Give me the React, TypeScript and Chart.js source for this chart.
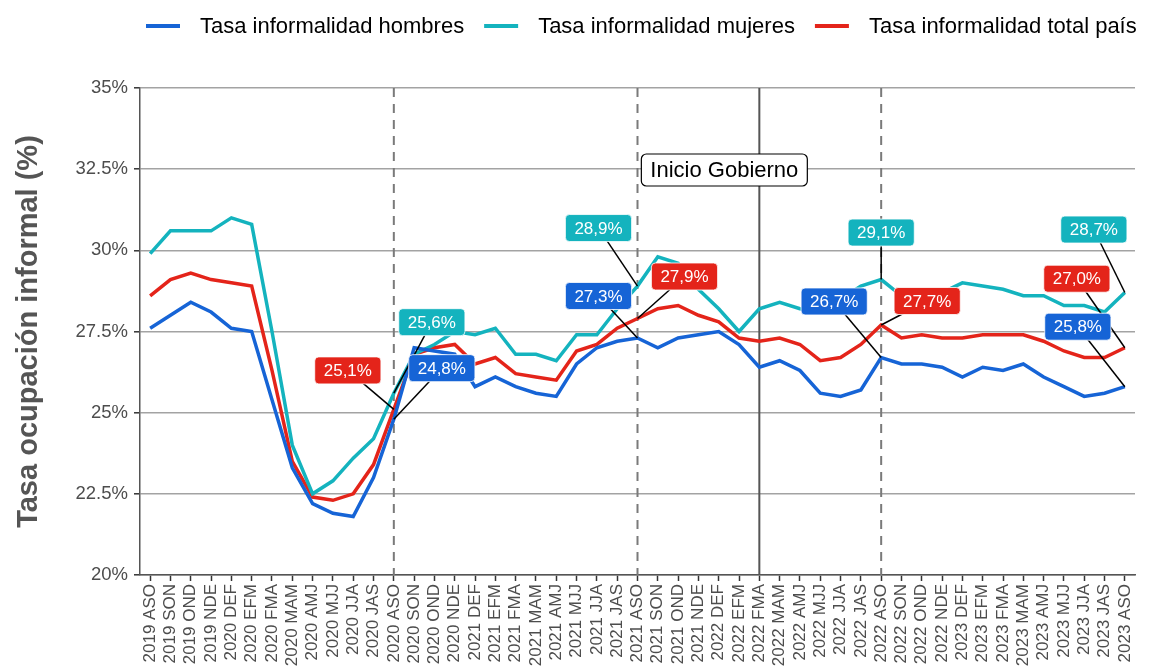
import React, { useEffect, useRef } from 'react';
import { Chart, registerables } from 'chart.js';

Chart.register(...registerables);

const categories = [
  '2019 ASO', '2019 SON', '2019 OND', '2019 NDE', '2020 DEF', '2020 EFM', '2020 FMA', '2020 MAM',
  '2020 AMJ', '2020 MJJ', '2020 JJA', '2020 JAS', '2020 ASO', '2020 SON', '2020 OND', '2020 NDE',
  '2021 DEF', '2021 EFM', '2021 FMA', '2021 MAM', '2021 AMJ', '2021 MJJ', '2021 JJA', '2021 JAS',
  '2021 ASO', '2021 SON', '2021 OND', '2021 NDE', '2022 DEF', '2022 EFM', '2022 FMA', '2022 MAM',
  '2022 AMJ', '2022 MJJ', '2022 JJA', '2022 JAS', '2022 ASO', '2022 SON', '2022 OND', '2022 NDE',
  '2023 DEF', '2023 EFM', '2023 FMA', '2023 MAM', '2023 AMJ', '2023 MJJ', '2023 JJA', '2023 JAS',
  '2023 ASO',
];

const hombres = [
  27.6, 28.0, 28.4, 28.1, 27.6, 27.5, 25.4, 23.3, 22.2, 21.9, 21.8, 23.0, 24.8, 27.0, 26.9, 26.8,
  25.8, 26.1, 25.8, 25.6, 25.5, 26.5, 27.0, 27.2, 27.3, 27.0, 27.3, 27.4, 27.5, 27.1, 26.4, 26.6,
  26.3, 25.6, 25.5, 25.7, 26.7, 26.5, 26.5, 26.4, 26.1, 26.4, 26.3, 26.5, 26.1, 25.8, 25.5, 25.6,
  25.8,
];

const mujeres = [
  29.9, 30.6, 30.6, 30.6, 31.0, 30.8, 27.5, 24.0, 22.5, 22.9, 23.6, 24.2, 25.6, 26.8, 27.1, 27.5,
  27.4, 27.6, 26.8, 26.8, 26.6, 27.4, 27.4, 28.2, 28.9, 29.8, 29.6, 28.8, 28.2, 27.5, 28.2, 28.4,
  28.2, 28.1, 28.5, 28.9, 29.1, 28.6, 28.6, 28.7, 29.0, 28.9, 28.8, 28.6, 28.6, 28.3, 28.3, 28.1,
  28.7,
];

const total = [
  28.6, 29.1, 29.3, 29.1, 29.0, 28.9, 26.3, 23.5, 22.4, 22.3, 22.5, 23.4, 25.1, 26.8, 27.0, 27.1,
  26.5, 26.7, 26.2, 26.1, 26.0, 26.9, 27.1, 27.6, 27.9, 28.2, 28.3, 28.0, 27.8, 27.3, 27.2, 27.3,
  27.1, 26.6, 26.7, 27.1, 27.7, 27.3, 27.4, 27.3, 27.3, 27.4, 27.4, 27.4, 27.2, 26.9, 26.7, 26.7,
  27.0,
];

const yTicks = [20, 22.5, 25, 27.5, 30, 32.5, 35];
const seriesNames = ['Tasa informalidad hombres', 'Tasa informalidad mujeres', 'Tasa informalidad total país'];
const seriesColors = ['#1664d6', '#14b3be', '#e4241a'];
const yTitle = 'Tasa ocupación informal (%)';
const dashedIdx = [12, 24, 36];
const govIdx = 30;
const govText = 'Inicio Gobierno';

// callout label placement (series index, category index, pixel offset of the box centre)
const callouts = [
  { s: 2, i: 12, dx: -46, dy: -39 },
  { s: 1, i: 12, dx: 38, dy: -71 },
  { s: 0, i: 12, dx: 48, dy: -51 },
  { s: 1, i: 24, dx: -39, dy: -58 },
  { s: 0, i: 24, dx: -39, dy: -42 },
  { s: 2, i: 24, dx: 47, dy: -42 },
  { s: 1, i: 36, dx: 0, dy: -47 },
  { s: 0, i: 36, dx: -47, dy: -56 },
  { s: 2, i: 36, dx: 46, dy: -24 },
  { s: 1, i: 48, dx: -31, dy: -63 },
  { s: 2, i: 48, dx: -48, dy: -69 },
  { s: 0, i: 48, dx: -47, dy: -60 },
];

const FONT = '"Liberation Sans", Arial, Helvetica, sans-serif';

function roundRect(ctx: CanvasRenderingContext2D, x: number, y: number, w: number, h: number, r: number) {
  ctx.beginPath();
  ctx.moveTo(x + r, y);
  ctx.lineTo(x + w - r, y);
  ctx.arcTo(x + w, y, x + w, y + r, r);
  ctx.lineTo(x + w, y + h - r);
  ctx.arcTo(x + w, y + h, x + w - r, y + h, r);
  ctx.lineTo(x + r, y + h);
  ctx.arcTo(x, y + h, x, y + h - r, r);
  ctx.lineTo(x, y + r);
  ctx.arcTo(x, y, x + r, y, r);
  ctx.closePath();
}

const decorPlugin = {
  id: 'decor',
  beforeDatasetsDraw(chart: any) {
    const { ctx, chartArea, scales } = chart;
    const xs = scales.x;
    ctx.save();
    ctx.lineWidth = 2;
    ctx.strokeStyle = '#7a7a7a';
    ctx.setLineDash([9, 7]);
    dashedIdx.forEach((idx) => {
      const x = xs.getPixelForValue(idx);
      ctx.beginPath();
      ctx.moveTo(x, chartArea.top);
      ctx.lineTo(x, chartArea.bottom);
      ctx.stroke();
    });
    ctx.setLineDash([]);
    ctx.strokeStyle = '#555555';
    const gx = xs.getPixelForValue(govIdx);
    ctx.beginPath();
    ctx.moveTo(gx, chartArea.top);
    ctx.lineTo(gx, chartArea.bottom);
    ctx.stroke();
    ctx.restore();
  },
  afterDatasetsDraw(chart: any) {
    const { ctx, scales } = chart;
    const xs = scales.x;
    ctx.save();
    // government label
    ctx.font = `22px ${FONT}`;
    const gw = ctx.measureText(govText).width + 18;
    const gh = 32;
    const gcx = xs.getPixelForValue(govIdx) - 35;
    const gcy = 170;
    roundRect(ctx, gcx - gw / 2, gcy - gh / 2, gw, gh, 5);
    ctx.fillStyle = '#ffffff';
    ctx.fill();
    ctx.strokeStyle = '#000000';
    ctx.lineWidth = 1.2;
    ctx.stroke();
    ctx.fillStyle = '#000000';
    ctx.textAlign = 'center';
    ctx.textBaseline = 'middle';
    ctx.fillText(govText, gcx, gcy + 1);

    // callout segments
    const boxes: any[] = [];
    callouts.forEach((c) => {
      const pt = chart.getDatasetMeta(c.s).data[c.i];
      const value = chart.data.datasets[c.s].data[c.i] as number;
      const cx = pt.x + c.dx;
      const cy = pt.y + c.dy;
      ctx.strokeStyle = '#000000';
      ctx.lineWidth = 1.5;
      ctx.beginPath();
      ctx.moveTo(pt.x, pt.y);
      ctx.lineTo(cx, cy);
      ctx.stroke();
      boxes.push({ cx, cy, value, color: seriesColors[c.s] });
    });
    ctx.font = `17px ${FONT}`;
    boxes.forEach((b) => {
      const txt = b.value.toFixed(1).replace('.', ',') + '%';
      const w = ctx.measureText(txt).width + 18;
      const h = 27;
      roundRect(ctx, b.cx - w / 2, b.cy - h / 2, w, h, 4);
      ctx.fillStyle = b.color;
      ctx.fill();
      ctx.strokeStyle = 'rgba(255,255,255,0.8)';
      ctx.lineWidth = 1;
      ctx.stroke();
      ctx.fillStyle = '#ffffff';
      ctx.textAlign = 'center';
      ctx.textBaseline = 'middle';
      ctx.fillText(txt, b.cx, b.cy + 1);
    });

    // legend
    ctx.font = `22px ${FONT}`;
    ctx.textAlign = 'left';
    ctx.textBaseline = 'middle';
    let x = 146;
    const ly = 26;
    seriesNames.forEach((name, k) => {
      ctx.strokeStyle = seriesColors[k];
      ctx.lineWidth = 4;
      ctx.beginPath();
      ctx.moveTo(x, ly);
      ctx.lineTo(x + 34, ly);
      ctx.stroke();
      ctx.fillStyle = '#000000';
      ctx.fillText(name, x + 54, ly + 1);
      x = x + 54 + ctx.measureText(name).width + 20;
    });
    ctx.restore();
  },
};

export default function App() {
  const canvasRef = useRef<HTMLCanvasElement | null>(null);

  useEffect(() => {
    document.body.style.margin = '0';
    const canvas = canvasRef.current;
    if (!canvas) return;
    const seriesData = [hombres, mujeres, total];
    const chart = new Chart(canvas, {
      type: 'line',
      data: {
        labels: categories,
        datasets: seriesData.map((d, k) => ({
          label: seriesNames[k],
          data: d,
          borderColor: seriesColors[k],
          backgroundColor: seriesColors[k],
          borderWidth: 3.5,
          pointRadius: 0,
          tension: 0,
          borderJoinStyle: 'miter' as const,
        })),
      },
      options: {
        responsive: true,
        maintainAspectRatio: false,
        animation: false,
        layout: { padding: { top: 88, right: 14, left: 0, bottom: 0 } },
        plugins: {
          legend: { display: false },
          tooltip: { enabled: false },
        },
        scales: {
          x: {
            type: 'category',
            offset: true,
            grid: {
              display: true,
              drawOnChartArea: false,
              drawTicks: true,
              tickLength: 6,
              tickColor: '#333333',
              tickWidth: 1.5,
            },
            border: { display: true, color: '#555555', width: 1.5 },
            ticks: {
              autoSkip: false,
              maxRotation: 90,
              minRotation: 90,
              padding: 3,
              color: '#4d4d4d',
              font: { family: FONT, size: 17 },
            },
            afterFit(scale: any) {
              scale.height = 96;
            },
          },
          y: {
            type: 'linear',
            min: 20,
            max: 35,
            afterBuildTicks(scale: any) {
              scale.ticks = yTicks.map((v) => ({ value: v }));
            },
            grid: {
              color: '#a3a3a3',
              lineWidth: 1.6,
              tickLength: 6,
              tickColor: '#333333',
              tickWidth: 1.5,
            },
            border: { display: true, color: '#555555', width: 1.5 },
            ticks: {
              padding: 6,
              color: '#4d4d4d',
              font: { family: FONT, size: 18.5 },
              callback: (v: any) => `${v}%`,
            },
            title: {
              display: true,
              text: yTitle,
              color: '#555555',
              font: { family: FONT, size: 29, weight: 'bold' },
              padding: { top: 12, bottom: 0 },
            },
            afterFit(scale: any) {
              scale.width = 140;
            },
          },
        },
      },
      plugins: [decorPlugin],
    });
    return () => chart.destroy();
  }, []);

  return (
    <div style={{ width: 1149, height: 671, position: 'relative' }}>
      <canvas ref={canvasRef} />
    </div>
  );
}
